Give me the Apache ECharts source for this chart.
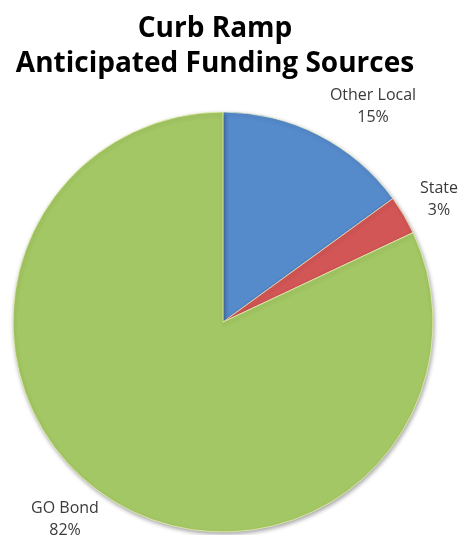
<!DOCTYPE html>
<html>
<head>
<meta charset="utf-8">
<script src="https://cdn.jsdelivr.net/npm/echarts@6/dist/echarts.min.js"></script>
<style>
  html, body { margin: 0; padding: 0; background: #fff; }
  #chart { width: 461px; height: 535px; }
</style>
</head>
<body>
<div id="chart"></div>
<script>
// Funding sources and their shares (percent)
const categories = ['Other Local', 'State', 'GO Bond'];
const shares = [15, 3, 82];
const sliceColors = ['#558ACB', '#D25656', '#A3C764'];

// Where each label block sits (centre of the two-line label)
const labelSpots = {
  'Other Local': [373, 106],
  'State': [439, 199],
  'GO Bond': [65, 519]
};

const chart = echarts.init(document.getElementById('chart'), null, { renderer: 'canvas' });

chart.setOption({
  backgroundColor: '#ffffff',
  animation: false,
  title: {
    text: 'Curb Ramp\nAnticipated Funding Sources',
    left: 210,
    textAlign: 'center',
    top: 7,
    textStyle: {
      fontFamily: 'Open Sans',
      fontWeight: 'bold',
      fontSize: 28,
      lineHeight: 35,
      color: '#000000'
    }
  },
  series: [{
    type: 'pie',
    center: [223, 322],
    radius: [0, 210],
    startAngle: 90,
    clockwise: true,
    avoidLabelOverlap: false,
    data: categories.map((name, i) => ({
      name: name,
      value: shares[i],
      itemStyle: { color: sliceColors[i] }
    })),
    itemStyle: {
      borderColor: 'rgba(255,255,200,0.6)',
      borderWidth: 1,
      shadowBlur: 4,
      shadowOffsetX: 1,
      shadowOffsetY: 2,
      shadowColor: 'rgba(0,0,0,0.35)'
    },
    label: {
      show: true,
      position: 'outside',
      formatter: p => p.name + '\n' + p.value + '%',
      fontFamily: 'Open Sans',
      fontSize: 16,
      lineHeight: 22,
      color: '#3a3a3a',
      align: 'center'
    },
    labelLine: { show: false },
    labelLayout: params => {
      const spot = labelSpots[categories[params.dataIndex]];
      return {
        x: spot[0],
        y: spot[1],
        align: 'center',
        verticalAlign: 'middle'
      };
    }
  }]
});
</script>
</body>
</html>
